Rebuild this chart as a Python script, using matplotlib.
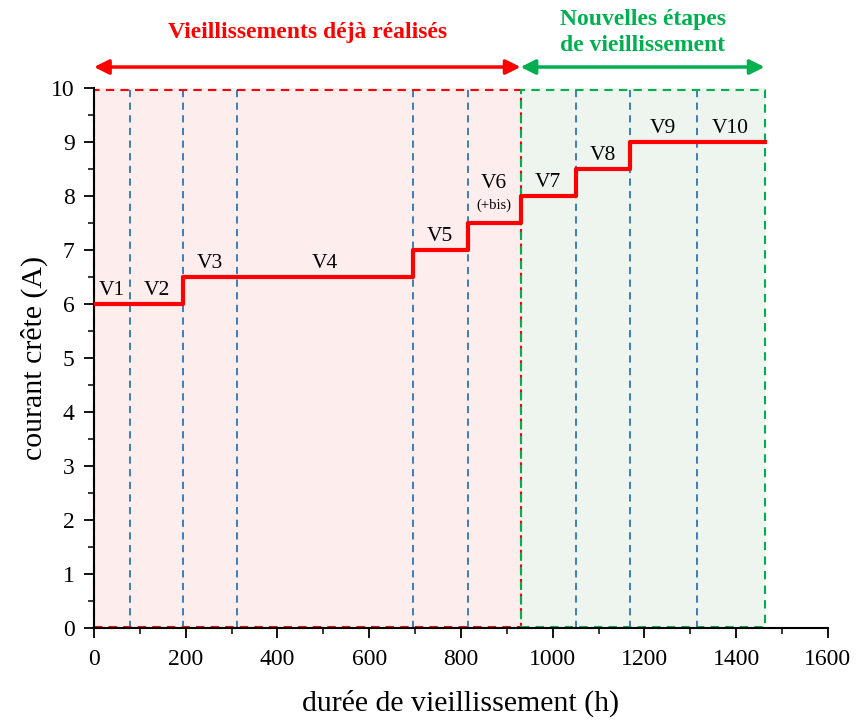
import matplotlib
matplotlib.use("Agg")
import matplotlib.pyplot as plt
from matplotlib.ticker import MultipleLocator

plt.rcParams['font.family'] = ['Liberation Serif', 'DejaVu Serif']

# Stage boundaries (h) and peak current per stage (A)
stage_edges = [0, 78, 194, 312, 695, 815, 930, 1050, 1168, 1314, 1462]
stage_current = [6, 6, 6.5, 6.5, 7, 7.5, 8, 8.5, 9, 9]
stage_names = ["V1", "V2", "V3", "V4", "V5", "V6", "V7", "V8", "V9", "V10"]
done_end = 930
total_end = 1462

fig = plt.figure(figsize=(8.57, 7.22), dpi=100)
ax = fig.add_axes([0.1097, 0.130, 0.8563, 0.748])

red = "#ff0000"
green = "#00b050"
blue = "#2e75b6"

# Shaded regions
ax.fill_between([0, done_end], 0, 10, color="#fdeded", zorder=0, lw=0)
ax.fill_between([done_end, total_end], 0, 10, color="#eef5ee", zorder=0, lw=0)
ax.plot([0, done_end, done_end, 0, 0], [0.03, 0.03, 9.97, 9.97, 0.03],
        color=red, ls=(0, (4, 3)), lw=1.5, zorder=2, clip_on=False)
ax.plot([done_end, total_end, total_end, done_end, done_end],
        [0.03, 0.03, 9.97, 9.97, 0.03],
        color=green, ls=(0, (4, 3)), lw=1.5, zorder=2, clip_on=False)

# Stage separators
for x in stage_edges[1:-1]:
    if x == done_end:
        continue
    ax.plot([x, x], [0, 10], color=blue, ls=(0, (4, 3)), lw=1.3, zorder=1)

# Current profile
xs = stage_edges
ys = stage_current + [stage_current[-1]]
ax.step(xs, ys, where="post", color=red, lw=3, zorder=3)

# Stage labels
for i, name in enumerate(stage_names):
    xc = 0.5 * (stage_edges[i] + stage_edges[i + 1])
    if name == "V6":
        ax.text(xc, stage_current[i] + 0.55, name, ha="center", va="bottom", fontsize=15.5)
        ax.text(xc, stage_current[i] + 0.2, "(+bis)", ha="center", va="bottom", fontsize=10.5)
    else:
        ax.text(xc, stage_current[i] + 0.08, name, ha="center", va="bottom", fontsize=15.5)

# Phase arrows and titles
ax.annotate("", xy=(0, 10.39), xytext=(done_end, 10.39),
            arrowprops=dict(arrowstyle="<|-|>", color=red, lw=2.5, mutation_scale=22,
                            shrinkA=0, shrinkB=0), annotation_clip=False)
ax.annotate("", xy=(done_end, 10.39), xytext=(total_end, 10.39),
            arrowprops=dict(arrowstyle="<|-|>", color=green, lw=2.5, mutation_scale=22,
                            shrinkA=0, shrinkB=0), annotation_clip=False)
ax.text(465, 11.03, "Vieillissements déjà réalisés", color=red, fontsize=17,
        fontweight="bold", ha="center", va="center", clip_on=False)
ax.text(1196, 11.03, "Nouvelles étapes\nde vieillissement", color=green, fontsize=17,
        fontweight="bold", ha="center", va="center", linespacing=1.3, clip_on=False)

ax.set_xlim(0, 1600)
ax.set_ylim(0, 10)
ax.xaxis.set_major_locator(MultipleLocator(200))
ax.xaxis.set_minor_locator(MultipleLocator(100))
ax.yaxis.set_major_locator(MultipleLocator(1))
ax.yaxis.set_minor_locator(MultipleLocator(0.5))
ax.tick_params(which="major", length=7, width=1.3, labelsize=17, direction="out")
ax.tick_params(axis="x", which="major", pad=8)
ax.tick_params(axis="y", which="major", pad=7)
ax.tick_params(which="minor", length=4, width=1.1, direction="out")
for s in ["top", "right"]:
    ax.spines[s].set_visible(False)
for s in ["left", "bottom"]:
    ax.spines[s].set_linewidth(1.5)

ax.set_xlabel("durée de vieillissement (h)", fontsize=21.5, labelpad=14)
ax.set_ylabel("courant crête (A)", fontsize=21.5, labelpad=2)

fig.savefig("out.png", dpi=100)
